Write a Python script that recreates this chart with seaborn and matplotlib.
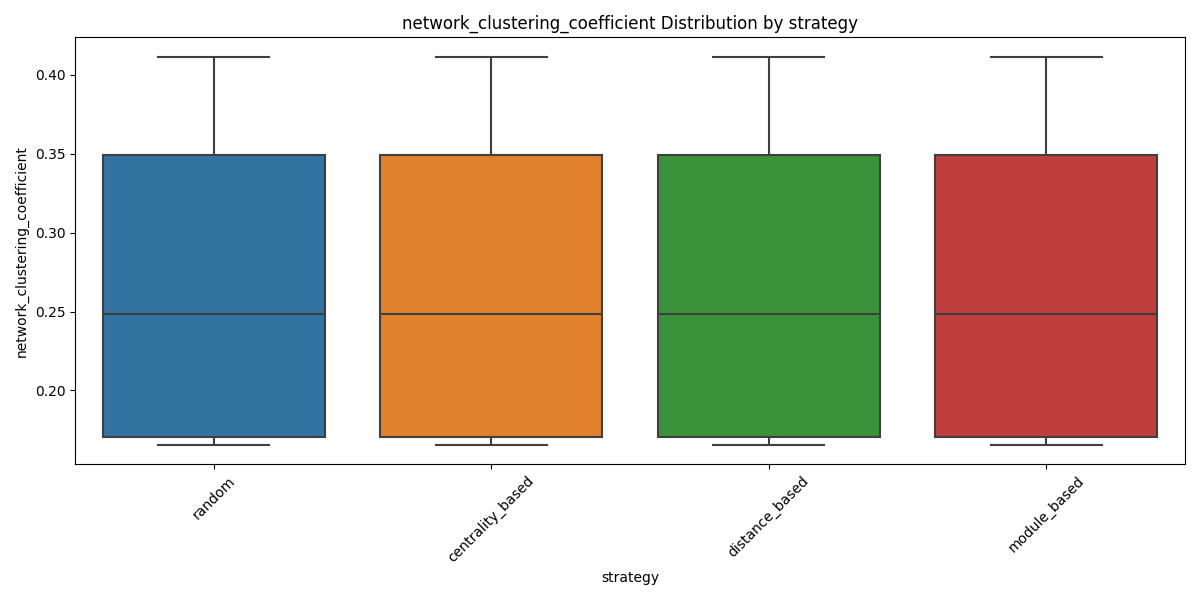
import pandas as pd
import matplotlib
matplotlib.use("Agg")
import matplotlib.pyplot as plt
import seaborn as sns

# strategies shown on the x axis
strategies = ['random', 'centrality_based', 'distance_based', 'module_based']

# five-number summary (same for every strategy)
min_val = 0.1656
q1_val = 0.1707
median_val = 0.2483
q3_val = 0.3492
max_val = 0.4113

summary_values = [min_val, q1_val, median_val, q3_val, max_val]

rows = []
for s in strategies:
    for v in summary_values:
        rows.append({'strategy': s, 'network_clustering_coefficient': v})
df = pd.DataFrame(rows)

plt.figure(figsize=(12, 6))
sns.boxplot(data=df, x='strategy', y='network_clustering_coefficient',
            hue='strategy', palette='tab10', legend=False,
            saturation=0.75, linecolor='#3f3f3f', linewidth=1.5)
plt.title('network_clustering_coefficient Distribution by strategy')
plt.xlabel('strategy')
plt.ylabel('network_clustering_coefficient')
plt.xticks(rotation=45)
plt.tight_layout()
plt.savefig('out.png', dpi=100)
